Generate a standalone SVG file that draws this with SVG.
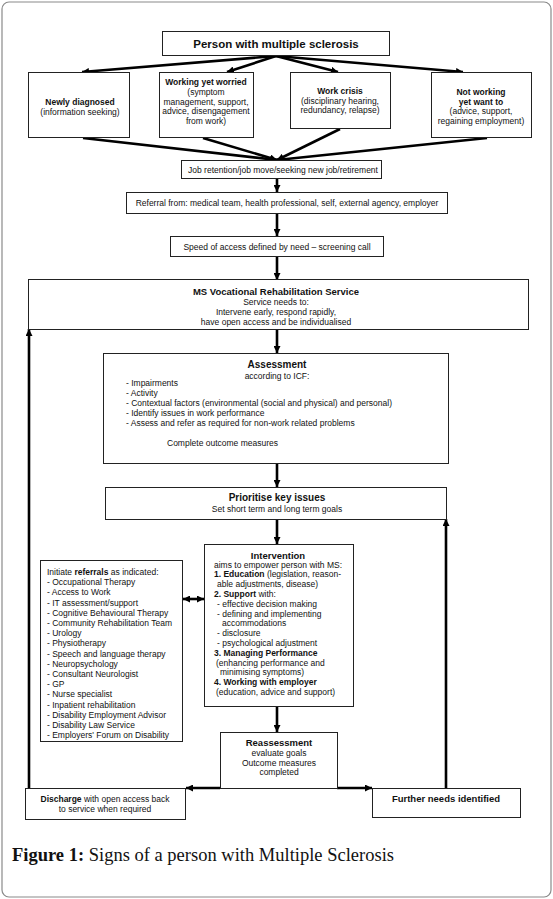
<svg xmlns="http://www.w3.org/2000/svg" width="553" height="899" viewBox="0 0 553 899">
<style>
.box{fill:#fff;stroke:#222;stroke-width:1}
.t{font-family:"Liberation Sans",Arial,sans-serif;font-size:8.5px;fill:#111}
.c{text-anchor:middle}
.b{font-weight:bold}
.ln{stroke:#000;stroke-width:2.6;fill:none}
.cap{font-family:"Liberation Serif","Times New Roman",serif;font-size:18.5px;fill:#111}
</style>
<defs>
<marker id="ah" viewBox="0 0 10 10" refX="10" refY="5" markerWidth="7" markerHeight="7" markerUnits="userSpaceOnUse" orient="auto-start-reverse">
<path d="M0,0 L10,5 L0,10 z" fill="#000"/>
</marker>
</defs>
<rect x="2" y="2" width="549" height="895" rx="7" fill="#fff" stroke="#8a8a8a" stroke-width="1.2"/>

<g id="connectors">
<line class="ln" x1="276" y1="56" x2="82" y2="72" marker-end="url(#ah)"/>
<line class="ln" x1="276" y1="56" x2="227" y2="72" marker-end="url(#ah)"/>
<line class="ln" x1="276" y1="56" x2="338" y2="72" marker-end="url(#ah)"/>
<line class="ln" x1="276" y1="56" x2="463" y2="72" marker-end="url(#ah)"/>
<line class="ln" x1="83" y1="138" x2="277" y2="160" marker-end="url(#ah)"/>
<line class="ln" x1="203" y1="138" x2="277" y2="160" marker-end="url(#ah)"/>
<line class="ln" x1="340" y1="129" x2="277" y2="160" marker-end="url(#ah)"/>
<line class="ln" x1="487" y1="138" x2="277" y2="160" marker-end="url(#ah)"/>
<line class="ln" x1="277" y1="178" x2="277" y2="192" marker-end="url(#ah)"/>
<line class="ln" x1="277" y1="213" x2="277" y2="236" marker-end="url(#ah)"/>
<line class="ln" x1="277" y1="256" x2="277" y2="280" marker-end="url(#ah)"/>
<line class="ln" x1="277" y1="329" x2="277" y2="353" marker-end="url(#ah)"/>
<line class="ln" x1="277" y1="463" x2="277" y2="487" marker-end="url(#ah)"/>
<line class="ln" x1="277" y1="519" x2="277" y2="544" marker-end="url(#ah)"/>
<line class="ln" x1="277" y1="706" x2="277" y2="732" marker-end="url(#ah)"/>
<line class="ln" x1="183" y1="599" x2="204" y2="599" marker-start="url(#ah)" marker-end="url(#ah)"/>
<line class="ln" x1="220" y1="788" x2="186" y2="788" marker-end="url(#ah)"/>
<line class="ln" x1="337" y1="788" x2="372" y2="788" marker-end="url(#ah)"/>
<line class="ln" x1="29" y1="788" x2="29" y2="329" marker-end="url(#ah)"/>
<line class="ln" x1="446" y1="788" x2="446" y2="519" marker-end="url(#ah)"/>
</g>

<g id="person">
<rect class="box" x="162.5" y="31.5" width="227" height="24"/>
<text class="t c b" x="276" y="47.5" style="font-size:11.5px">Person with multiple sclerosis</text>
</g>

<g id="newly">
<rect class="box" x="28.5" y="72.5" width="101" height="65"/>
<text class="t c b" x="80" y="105">Newly diagnosed</text>
<text class="t c" x="80" y="115">(information seeking)</text>
</g>

<g id="working">
<rect class="box" x="159.5" y="72.5" width="94" height="65"/>
<text class="t c b" x="206" y="85">Working yet worried</text>
<text class="t c" x="206" y="95">(symptom</text>
<text class="t c" x="206" y="104.5">management, support,</text>
<text class="t c" x="206" y="114">advice, disengagement</text>
<text class="t c" x="206" y="123.5">from work)</text>
</g>

<g id="crisis">
<rect class="box" x="290.5" y="72.5" width="100" height="56"/>
<text class="t c b" x="340" y="94">Work crisis</text>
<text class="t c" x="340" y="103.5">(disciplinary hearing,</text>
<text class="t c" x="340" y="113">redundancy, relapse)</text>
</g>

<g id="notworking">
<rect class="box" x="431.5" y="72.5" width="100" height="65"/>
<text class="t c b" x="481" y="95">Not working</text>
<text class="t c b" x="481" y="104.5">yet want to</text>
<text class="t c" x="481" y="114">(advice, support,</text>
<text class="t c" x="481" y="123.5">regaining employment)</text>
</g>

<g id="job">
<rect class="box" x="181.5" y="160.5" width="200" height="18"/>
<text class="t c" x="283" y="172.5">Job retention/job move/seeking new job/retirement</text>
</g>

<g id="referral">
<rect class="box" x="126.5" y="192.5" width="321" height="21"/>
<text class="t c" x="287" y="206">Referral from: medical team, health professional, self, external agency, employer</text>
</g>

<g id="speed">
<rect class="box" x="170.5" y="236.5" width="213" height="20"/>
<text class="t c" x="277" y="249.5">Speed of access defined by need – screening call</text>
</g>

<g id="service">
<rect class="box" x="28.5" y="279.5" width="500" height="50"/>
<text class="t c b" x="276" y="294.5" style="font-size:9.5px">MS Vocational Rehabilitation Service</text>
<text class="t c" x="276" y="305">Service needs to:</text>
<text class="t c" x="276" y="315">Intervene early, respond rapidly,</text>
<text class="t c" x="276" y="325">have open access and be individualised</text>
</g>

<g id="assessment">
<rect class="box" x="103.5" y="353.5" width="345" height="110"/>
<text class="t c b" x="277" y="368" style="font-size:10px">Assessment</text>
<text class="t c" x="277" y="378.5">according to ICF:</text>
<text class="t" x="126" y="386">- Impairments</text>
<text class="t" x="126" y="396">- Activity</text>
<text class="t" x="126" y="406">- Contextual factors (environmental (social and physical) and personal)</text>
<text class="t" x="126" y="416">- Identify issues in work performance</text>
<text class="t" x="126" y="425.5">- Assess and refer as required for non-work related problems</text>
<text class="t" x="167" y="446">Complete outcome measures</text>
</g>

<g id="prioritise">
<rect class="box" x="105.5" y="487.5" width="341" height="32"/>
<text class="t c b" x="277" y="501" style="font-size:10px">Prioritise key issues</text>
<text class="t c" x="277" y="512">Set short term and long term goals</text>
</g>

<g id="referrals">
<rect class="box" x="40.5" y="560.5" width="142" height="181"/>
<text class="t" x="47" y="575">Initiate <tspan class="b">referrals</tspan> as indicated:</text>
<text class="t" x="47" y="585.2">- Occupational Therapy</text>
<text class="t" x="47" y="595.4">- Access to Work</text>
<text class="t" x="47" y="605.6">- IT assessment/support</text>
<text class="t" x="47" y="615.8">- Cognitive Behavioural Therapy</text>
<text class="t" x="47" y="626">- Community Rehabilitation Team</text>
<text class="t" x="47" y="636.2">- Urology</text>
<text class="t" x="47" y="646.4">- Physiotherapy</text>
<text class="t" x="47" y="656.6">- Speech and language therapy</text>
<text class="t" x="47" y="666.8">- Neuropsychology</text>
<text class="t" x="47" y="677">- Consultant Neurologist</text>
<text class="t" x="47" y="687.2">- GP</text>
<text class="t" x="47" y="697.4">- Nurse specialist</text>
<text class="t" x="47" y="707.6">- Inpatient rehabilitation</text>
<text class="t" x="47" y="717.8">- Disability Employment Advisor</text>
<text class="t" x="47" y="728">- Disability Law Service</text>
<text class="t" x="47" y="738.2">- Employers' Forum on Disability</text>
</g>

<g id="intervention">
<rect class="box" x="204.5" y="544.5" width="149" height="162"/>
<text class="t c b" x="278" y="558.5" style="font-size:9.5px">Intervention</text>
<text class="t" x="214" y="567.5">aims to empower person with MS:</text>
<text class="t" x="214" y="577.3"><tspan class="b">1. Education</tspan> (legislation, reason-</text>
<text class="t" x="217" y="587.1">able adjustments, disease)</text>
<text class="t" x="214" y="596.9"><tspan class="b">2. Support</tspan> with:</text>
<text class="t" x="217" y="606.7">- effective decision making</text>
<text class="t" x="217" y="616.5">- defining and implementing</text>
<text class="t" x="222" y="626.3">accommodations</text>
<text class="t" x="217" y="636.1">- disclosure</text>
<text class="t" x="217" y="645.9">- psychological adjustment</text>
<text class="t b" x="214" y="655.7">3. Managing Performance</text>
<text class="t" x="216" y="665.5">(enhancing performance and</text>
<text class="t" x="220" y="675.3">minimising symptoms)</text>
<text class="t b" x="214" y="685.1">4. Working with employer</text>
<text class="t" x="216" y="694.9">(education, advice and support)</text>
</g>

<g id="reassessment">
<rect class="box" x="220.5" y="732.5" width="117" height="56"/>
<text class="t c b" x="279" y="745.5" style="font-size:9.5px">Reassessment</text>
<text class="t c" x="279" y="756">evaluate goals</text>
<text class="t c" x="279" y="765.5">Outcome measures</text>
<text class="t c" x="279" y="775">completed</text>
</g>

<g id="discharge">
<rect class="box" x="25.5" y="788.5" width="160" height="31"/>
<text class="t c" x="105" y="802"><tspan class="b">Discharge</tspan> with open access back</text>
<text class="t c" x="105" y="812">to service when required</text>
</g>

<g id="further">
<rect class="box" x="372.5" y="788.5" width="148" height="29"/>
<text class="t c b" x="446" y="801.5" style="font-size:9.5px">Further needs identified</text>
</g>

<text class="cap" x="12" y="861"><tspan font-weight="bold">Figure 1:</tspan> Signs of a person with Multiple Sclerosis</text>
</svg>
